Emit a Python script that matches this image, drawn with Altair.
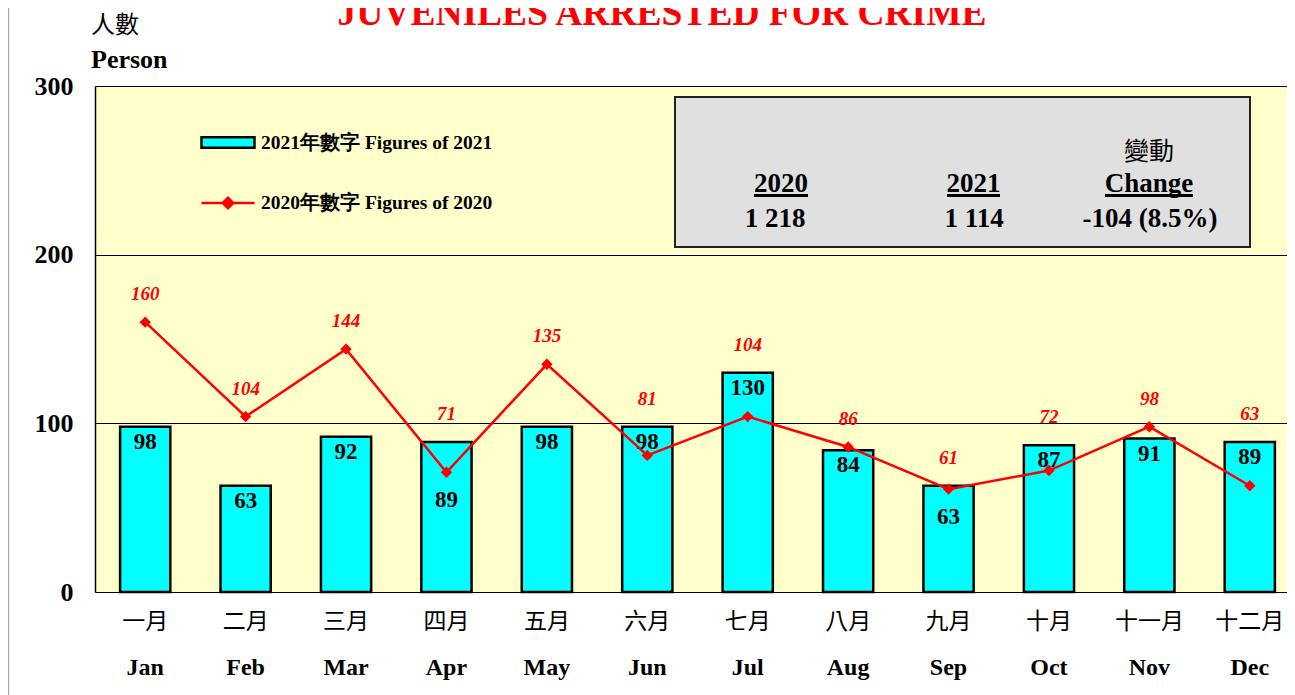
import altair as alt
import pandas as pd

# ---------------- data ----------------
MONTHS_EN = ["Jan", "Feb", "Mar", "Apr", "May", "Jun",
             "Jul", "Aug", "Sep", "Oct", "Nov", "Dec"]
MONTHS_CN = ["一月", "二月", "三月", "四月", "五月", "六月",
             "七月", "八月", "九月", "十月", "十一月", "十二月"]
FIG_2021 = [98, 63, 92, 89, 98, 98, 130, 84, 63, 87, 91, 89]
FIG_2020 = [160, 104, 144, 71, 135, 81, 104, 86, 61, 72, 98, 63]
SERIES_2021 = "2021年數字 Figures of 2021"
SERIES_2020 = "2020年數字 Figures of 2020"
TITLE = "JUVENILES ARRESTED FOR CRIME"
Y_TITLE_CN = "人數"
Y_TITLE_EN = "Person"
Y_TICKS = [0, 100, 200, 300]
BOX_HEADERS = ["2020", "2021", "Change"]
BOX_TOTALS = ["1 218", "1 114", "-104 (8.5%)"]
BOX_CN = "變動"
LOW_LABEL_MONTHS = ["Apr", "Sep"]  # 2021 labels drawn below the 2020 marker

df = pd.DataFrame({
    "month": MONTHS_EN, "cn": MONTHS_CN,
    "fig2021": FIG_2021, "fig2020": FIG_2020,
    "s21": SERIES_2021, "s20": SERIES_2020,
})
one = pd.DataFrame({"k": [0]})

# ---------------- styles ----------------
W, H = 1192, 506
SERIF = "Liberation Serif"
CJK = "Noto Sans CJK TC"
CYAN = "#00FFFF"
RED = "#FF0000"

# the category axis runs slightly past the visible right edge, as in the original
x = alt.X("month:N", sort=MONTHS_EN, axis=None,
          scale=alt.Scale(paddingInner=0.5, paddingOuter=0.25, range=[0, 1205]))
y_scale = alt.Scale(domain=[0, 300], nice=False)
yax = alt.Axis(values=Y_TICKS, title=None, grid=True, gridColor="black",
               gridWidth=1.2, gridOpacity=1, ticks=False, domain=True,
               domainColor="black", domainWidth=1.5,
               labelFont=SERIF, labelFontWeight="bold", labelFontSize=26,
               labelColor="black", labelPadding=22, labelFlush=False, format="d")

base = alt.Chart(df)

bars = base.mark_bar(stroke="black", strokeWidth=2.5).encode(
    x=x,
    y=alt.Y("fig2021:Q", scale=y_scale, axis=yax),
    fill=alt.Fill("s21:N", scale=alt.Scale(range=[CYAN]),
                  legend=alt.Legend(
                      title=None, orient="none", legendX=105, legendY=28.5,
                      symbolType="M-1,-0.2H1V0.2H-1Z", symbolSize=2809,
                      symbolFillColor=CYAN,
                      symbolStrokeColor="black", symbolStrokeWidth=2.5,
                      symbolOpacity=1, labelFont=SERIF, labelFontWeight="bold",
                      labelFontSize=19.5, labelColor="black", labelLimit=500,
                      labelOffset=5, padding=0)),
)

lab_normal = base.transform_filter(
    f"indexof({LOW_LABEL_MONTHS!r}, datum.month) < 0"
).mark_text(font=SERIF, fontWeight="bold", fontSize=23, color="black",
            baseline="middle", dy=15).encode(
    x=x, y=alt.Y("fig2021:Q", scale=y_scale, axis=yax), text="fig2021:Q")

lab_low = base.transform_filter(
    f"indexof({LOW_LABEL_MONTHS!r}, datum.month) >= 0"
).mark_text(font=SERIF, fontWeight="bold", fontSize=23, color="black",
            baseline="middle", dy=28).encode(
    x=x, y=alt.Y("fig2020:Q", scale=y_scale, axis=yax), text="fig2021:Q")

line = base.mark_line(strokeWidth=2.5).encode(
    x=x,
    y=alt.Y("fig2020:Q", scale=y_scale, axis=yax),
    stroke=alt.Stroke("s20:N", scale=alt.Scale(range=[RED]),
                      legend=alt.Legend(
                          title=None, orient="none", legendX=105, legendY=89,
                          symbolType="M-1,0H1M0,-0.2L0.2,0L0,0.2L-0.2,0Z",
                          symbolSize=2809, symbolStrokeWidth=2.5,
                          symbolStrokeColor=RED,
                          symbolFillColor=RED, symbolOpacity=1,
                          labelFont=SERIF, labelFontWeight="bold",
                          labelFontSize=19.5, labelColor="black", labelLimit=500,
                          labelOffset=5, padding=0)),
)

points = base.mark_point(shape="diamond", filled=True, size=130, color=RED,
                         opacity=1).encode(
    x=x, y=alt.Y("fig2020:Q", scale=y_scale, axis=yax))

line_labels = base.transform_calculate(
    top="max(datum.fig2021, datum.fig2020)"
).mark_text(font=SERIF, fontStyle="italic", fontWeight="bold", fontSize=19,
            color=RED, baseline="middle", dy=-28).encode(
    x=x, y=alt.Y("top:Q", scale=y_scale, axis=yax), text="fig2020:Q")

month_cn = base.mark_text(font=CJK, fontSize=23, color="black",
                          baseline="middle").encode(
    x=x, y=alt.value(536), text="cn:N")
month_en = base.mark_text(font=SERIF, fontWeight="bold", fontSize=24,
                          color="black", baseline="middle").encode(
    x=x, y=alt.value(582), text="month:N")

# ---------------- annotations ----------------
ann = alt.Chart(one)
title = ann.mark_text(text=TITLE, font=SERIF, fontWeight="bold", fontSize=37.5,
                      color=RED, align="center", baseline="alphabetic").encode(
    x=alt.value(567), y=alt.value(-61))
ytitle_cn = ann.mark_text(text=Y_TITLE_CN, font=CJK, fontSize=24, color="black",
                          align="left", baseline="middle").encode(
    x=alt.value(-4), y=alt.value(-60))
ytitle_en = ann.mark_text(text=Y_TITLE_EN, font=SERIF, fontWeight="bold",
                          fontSize=26, color="black", align="left",
                          baseline="alphabetic").encode(
    x=alt.value(-4), y=alt.value(-18))
left_edge = ann.mark_rule(color="#A8A8A8", strokeWidth=1.5).encode(
    x=alt.value(-86.5), y=alt.value(-78), y2=alt.value(609))

box = ann.mark_rect(fill="#E0E0E0", stroke="#222222", strokeWidth=2).encode(
    x=alt.value(580), x2=alt.value(1155), y=alt.value(11), y2=alt.value(161))

BOX_HX = [686, 878.5, 1054]   # header centres
BOX_VX = [680, 879, 1055]     # total centres
BOX_UW = [54, 53, 88]         # underline widths
box_layers = [box]
for hx, vx, uw, hdr, tot in zip(BOX_HX, BOX_VX, BOX_UW, BOX_HEADERS, BOX_TOTALS):
    box_layers.append(ann.mark_text(text=hdr, font=SERIF, fontWeight="bold",
                                    fontSize=27, color="black", align="center",
                                    baseline="alphabetic").encode(
        x=alt.value(hx), y=alt.value(106)))
    box_layers.append(ann.mark_rule(color="black", strokeWidth=3).encode(
        x=alt.value(hx - uw / 2), x2=alt.value(hx + uw / 2), y=alt.value(109.5)))
    box_layers.append(ann.mark_text(text=tot, font=SERIF, fontWeight="bold",
                                    fontSize=27, color="black", align="center",
                                    baseline="alphabetic").encode(
        x=alt.value(vx), y=alt.value(141)))
box_layers.append(ann.mark_text(text=BOX_CN, font=CJK, fontSize=25,
                                color="black", align="center",
                                baseline="middle").encode(
    x=alt.value(BOX_HX[2]), y=alt.value(66)))

chart = alt.layer(
    bars, lab_normal, lab_low, line, points, line_labels,
    month_cn, month_en, *box_layers, title, ytitle_cn, ytitle_en, left_edge,
).properties(
    width=W, height=H,
    padding={"left": 87, "top": 78, "right": 0, "bottom": 103},
    autosize=alt.AutoSizeParams(type="none"),
    background="white",
).configure_view(
    fill="#FFFFCC", stroke=None, strokeWidth=0,
)

chart.save("out.html", embed_options={"renderer": "svg", "actions": False})
